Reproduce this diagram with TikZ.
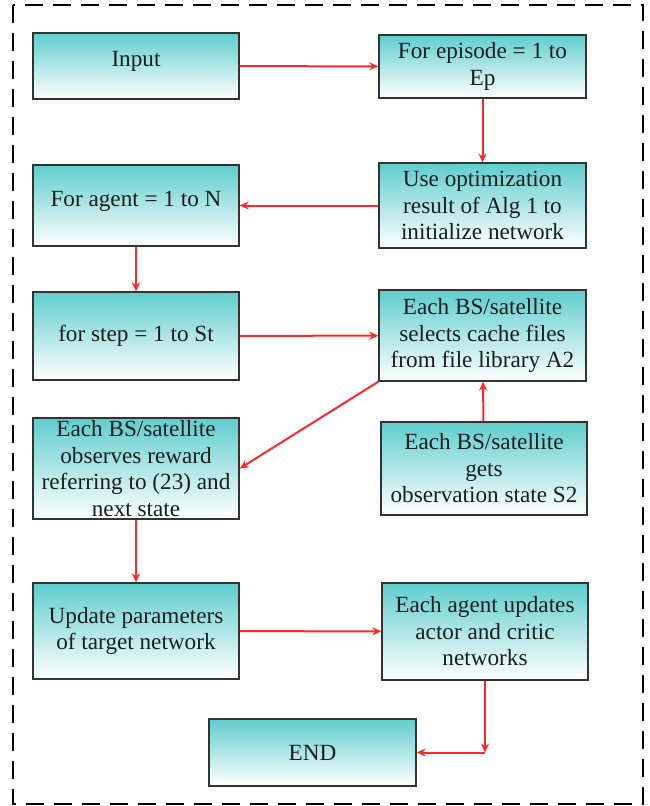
\documentclass[tikz,border=0pt]{standalone}
\usepackage{fontspec}
\setmainfont{Liberation Serif}
\usetikzlibrary{arrows.meta}
\definecolor{boxtop}{RGB}{96,205,205}
\definecolor{arrowred}{RGB}{255,40,40}
\definecolor{txt}{RGB}{25,30,30}
\tikzset{
  flowbox/.style={draw=black!80, line width=1.3pt, top color=boxtop, bottom color=white,
    align=center, inner sep=0pt, text=txt,
    font=\fontsize{23.2}{26.5}\selectfont},
  link/.style={draw=arrowred, line width=2pt, -{Stealth[length=9pt,width=8pt]}}
}
\begin{document}
\begin{tikzpicture}[x=1pt,y=-1pt]
\useasboundingbox (0,0) rectangle (650,806);
\draw[line width=2.2pt, dash pattern=on 18pt off 10pt] (13,5) rectangle (643,804);
\node[flowbox, minimum width=206pt, minimum height=66pt] (inp) at (136,66) {Input\\[-13pt]\mbox{}};
\node[flowbox, minimum width=207pt, minimum height=63pt] (ep) at (482.5,66.5) {For episode = 1 to\\Ep};
\node[flowbox, minimum width=207pt, minimum height=85pt] (opt) at (482.5,205.5) {Use optimization\\result of Alg 1 to\\initialize network};
\node[flowbox, minimum width=206pt, minimum height=81pt] (ag) at (136,205.5) {For agent = 1 to N\\[-13pt]\mbox{}};
\node[flowbox, minimum width=206pt, minimum height=88pt] (st) at (136,336) {for step = 1 to St};
\node[flowbox, minimum width=207pt, minimum height=91pt] (sel) at (482.5,335.5) {Each BS/satellite\\selects cache files\\from file library A2};
\node[flowbox, minimum width=206pt, minimum height=93pt] (gets) at (484,468.5) {Each BS/satellite\\gets\\observation state S2};
\node[flowbox, minimum width=206pt, minimum height=101pt] (obs) at (136,468.5) {Each BS/satellite\\observes reward\\referring to (23) and\\next state};
\node[flowbox, minimum width=206pt, minimum height=96pt] (upd) at (136,631) {Update parameters\\of target network};
\node[flowbox, minimum width=206pt, minimum height=97pt] (act) at (485,631.5) {Each agent updates\\actor and critic\\networks};
\node[flowbox, minimum width=207pt, minimum height=67pt] (end) at (312.5,752.5) {END};
\coordinate (corner) at (act.south |- end.east);
\draw[link] (inp) -- (ep);
\draw[link] (ep) -- (opt);
\draw[link] (opt) -- (ag);
\draw[link] (ag) -- (st);
\draw[link] (st) -- (sel);
\draw[link] (gets) -- (sel);
\draw[link] (sel.south west) -- (obs.east);
\draw[link] (obs) -- (upd);
\draw[link] (upd) -- (act);
\draw[link] (act.south) -- (corner);
\draw[link] (corner) -- (end.east);
\end{tikzpicture}
\end{document}
